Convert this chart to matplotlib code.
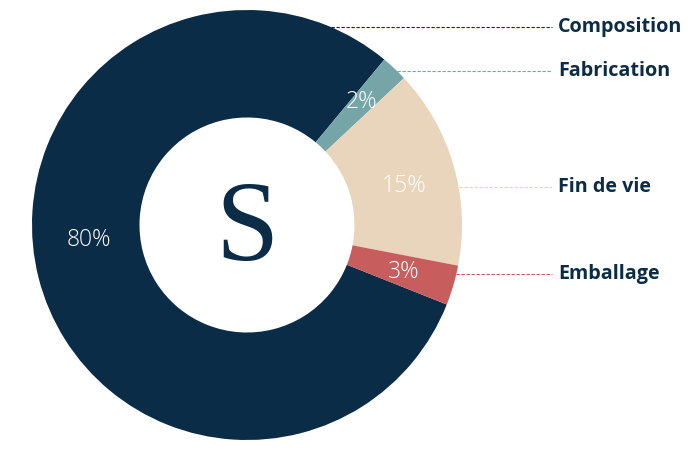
import numpy as np
import matplotlib
matplotlib.use("Agg")
import matplotlib.pyplot as plt

# Data
categories = ["Composition", "Fabrication", "Fin de vie", "Emballage"]
values = [80, 2, 15, 3]
colors = ["#0b2c47", "#76a5a8", "#e8d5bb", "#c75d5c"]
label_y = [27, 71, 187, 274]  # label rows in pixels from top

W, H = 696, 450
fig = plt.figure(figsize=(W / 100, H / 100), dpi=100)
ax = fig.add_axes([0, 0, 1, 1])

cx, cy, R = 247, 225, 215
start = 50.3 + 360 * values[0] / 100.0

wedges, texts, autotexts = ax.pie(
    values, colors=colors, startangle=start, counterclock=False,
    center=(cx, cy), radius=R, wedgeprops=dict(width=R * 0.5, linewidth=0),
    autopct=lambda p: f"{p:.0f}%", pctdistance=0.75,
    textprops=dict(color="white", fontsize=16.5, family=["Open Sans", "DejaVu Sans"], fontweight="light"),
)
# Move the big label like the reference
ang = np.deg2rad(185.5)
autotexts[0].set_position((cx + 0.74 * R * np.cos(ang), cy + 0.74 * R * np.sin(ang)))
for i, t in enumerate(autotexts):
    if i == 1:
        x, y = t.get_position(); t.set_position((x + 4, y + 6))
    if i == 2:
        x, y = t.get_position(); t.set_position((x + 2, y - 6))
    if i == 3:
        x, y = t.get_position(); t.set_position((x + 2, y - 2))

# Center letter
ax.text(cx, cy - 7, "S", ha="center", va="center", fontsize=82,
        family="Liberation Serif", color="#0b2c47")

# Leader lines and labels
for name, yp, col in zip(categories, label_y, colors):
    yd = H - yp
    dy = yd - cy
    x0 = cx + np.sqrt(max(R ** 2 - dy ** 2, 0))
    ax.plot([x0, 552], [yd, yd], color=col, lw=0.8, ls=(0, (3, 1.5)))
    ax.text(558, yd, name, ha="left", va="center", fontsize=14.2,
            fontweight="bold", color="#0b2c47", family=["Open Sans", "DejaVu Sans"])

ax.set_xlim(0, W)
ax.set_ylim(0, H)
ax.set_aspect("auto")
ax.axis("off")
fig.savefig("out.png", dpi=100)
